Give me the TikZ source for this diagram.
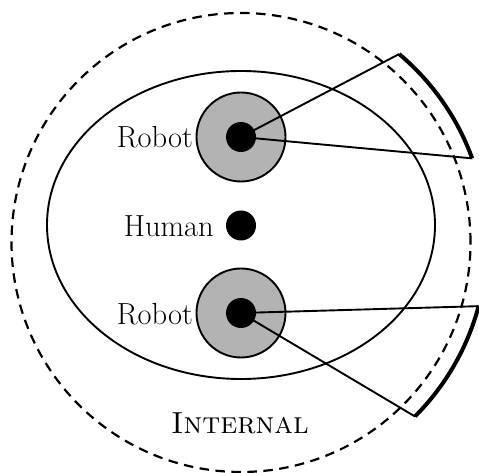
\documentclass[tikz,border=0pt]{standalone}
\definecolor{robotgray}{RGB}{179,179,179}
\begin{document}
\begin{tikzpicture}[x=1pt,y=1pt,
  line/.style={line width=1.9pt},
  outer/.style={line width=2.2pt,dash pattern=on 9.5pt off 6.5pt},
  fov/.style={line width=4pt},
  robotzone/.style={circle,draw,line width=1.9pt,fill=robotgray,minimum size=89pt,inner sep=0pt},
  dot/.style={circle,fill=black,minimum size=30pt,inner sep=0pt},
  lbl/.style={font=\fontsize{30.5}{36}\selectfont,inner sep=0pt}]
\useasboundingbox (0,0) rectangle (479,473);
\coordinate (C) at (241,230.5);
\draw[outer] (C) circle[radius=229.5pt];
\draw[line] (241,248) ellipse[x radius=194pt,y radius=154pt];
\node[robotzone] (z1) at (241,336) {};
\node[robotzone] (z2) at (241,160) {};
\coordinate (a1) at ([shift={(50:246pt)}]C);
\coordinate (a2) at ([shift={(20:246pt)}]C);
\coordinate (b1) at ([shift={(-15:246pt)}]C);
\coordinate (b2) at ([shift={(-45:246pt)}]C);
\draw[fov] (a1) arc[start angle=50,end angle=20,radius=246pt];
\draw[fov] (b1) arc[start angle=-15,end angle=-45,radius=246pt];
\draw[line] (z1.center) -- (a1);
\draw[line] (z1.center) -- (a2);
\draw[line] (z2.center) -- (b1);
\draw[line] (z2.center) -- (b2);
\node[dot] (r1) at (z1.center) {};
\node[dot] (r2) at (z2.center) {};
\node[dot] (h) at (241,247.5) {};
\node[lbl,anchor=east] (l1) at (193,336) {Robot};
\node[lbl,anchor=east] (l2) at (193,159) {Robot};
\node[lbl,anchor=east] (lh) at (214,247) {Human};
\node[lbl] (li) at (240,50) {\textsc{Internal}};
\end{tikzpicture}
\end{document}
